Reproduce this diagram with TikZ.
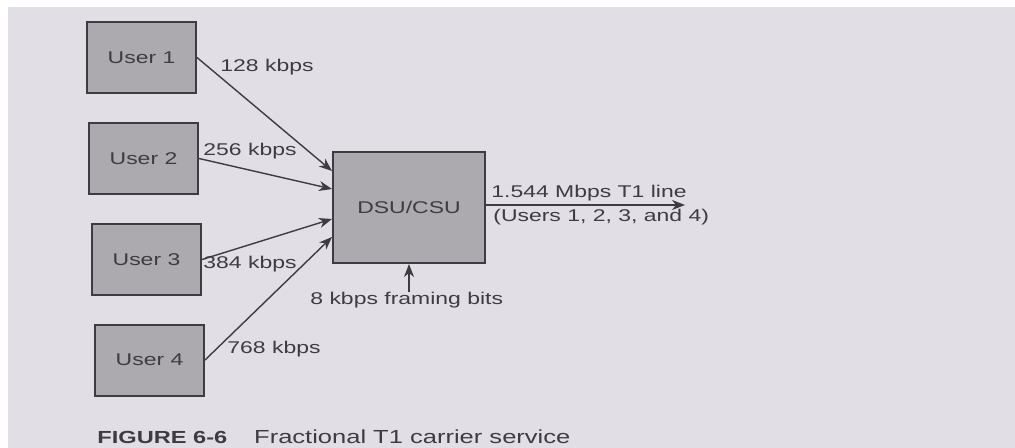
\documentclass[tikz,border=0pt]{standalone}
\usepackage{fontspec}
\newfontfamily\figfont[FakeStretch=1.35]{Liberation Sans}
\usepackage{tikz}
\usetikzlibrary{arrows.meta,positioning,calc}
\definecolor{paper}{RGB}{226,222,230}
\definecolor{boxgray}{RGB}{172,169,175}
\definecolor{inkgray}{RGB}{62,60,64}
\tikzset{
userbox/.style={rectangle,draw=inkgray,line width=1pt,fill=boxgray,
  minimum width=54.5pt,minimum height=35.5pt,
  font=\figfont\fontsize{8.5}{10}\selectfont,text=inkgray},
dsubox/.style={userbox,minimum width=76pt,minimum height=55.5pt},
ratelbl/.style={inner sep=0pt,anchor=base west,font=\figfont\fontsize{8.5}{10}\selectfont,text=inkgray},
capbold/.style={inner sep=0pt,anchor=base west,font=\figfont\bfseries\fontsize{8.75}{10}\selectfont,text=inkgray},
captext/.style={inner sep=0pt,font=\figfont\fontsize{9.45}{11}\selectfont,text=inkgray},
flowarr/.style={line width=0.7pt,draw=inkgray,-{Stealth[length=6.5pt,width=5pt,inset=2pt]}}
}
\begin{document}
\begin{tikzpicture}[x=0.5pt,y=-0.5pt]
\fill[white] (0,0) rectangle (1015,448);
\fill[paper] (8,7) rectangle (1015,448);
\useasboundingbox (0,0) rectangle (1015,448);
% users and the DSU/CSU
\node[userbox] (u1) at (141.5,57.5) {User 1};
\node[userbox] (u2) at (143.5,158.5) {User 2};
\node[userbox] (u3) at (146.5,259.5) {User 3};
\node[userbox] (u4) at (149.5,360) {User 4};
\node[dsubox] (dsu) at (409,207.5) {DSU/CSU};
% rates
\node[ratelbl] (r1) at (220,72) {128 kbps};
\node[ratelbl] (r2) at (203,156) {256 kbps};
\node[ratelbl] (r3) at (203,269) {384 kbps};
\node[ratelbl] (r4) at (227,353) {768 kbps};
\node[ratelbl] (t1a) at (491,198) {1.544 Mbps T1 line};
\node[ratelbl] (t1b) at (493,222) {(Users 1, 2, 3, and 4)};
\node[ratelbl] (frm) at (310,305) {8 kbps framing bits};
\coordinate (t1end) at (685,205);
\draw[flowarr] (u1.east) -- ($(dsu.north west)+(0,20)$);
\draw[flowarr] (u2.east) -- ($(dsu.north west)+(0,38)$);
\draw[flowarr] (u3.east) -- ($(dsu.north west)+(0,68)$);
\draw[flowarr] (u4.east) -- ($(dsu.north west)+(0,86)$);
\draw[flowarr] (dsu.east |- t1end) -- (t1end);
\draw[flowarr] (dsu.south |- frm.north) -- (dsu.south);
% caption
\node[capbold] (fig) at (97,443) {FIGURE 6-6};
\node[captext,base right=13pt of fig] (cap) {Fractional T1 carrier service};
\end{tikzpicture}
\end{document}
